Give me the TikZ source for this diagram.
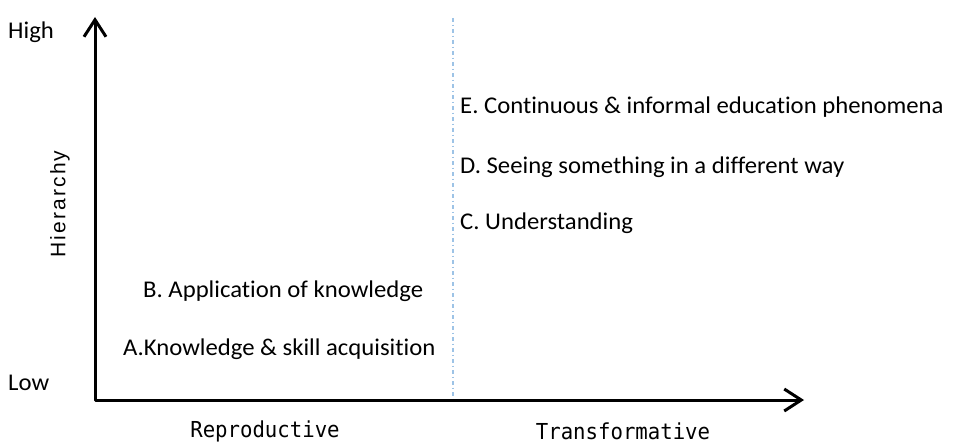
\documentclass[tikz,border=0pt]{standalone}
\usepackage{fontspec}
\setmainfont{Carlito}
\newfontfamily\lblfont[FakeStretch=1.03, Ligatures={NoCommon,NoContextual}]{Carlito}
\newfontfamily\axisfont[FakeStretch=0.94]{DejaVu Sans Mono}
\newfontfamily\hierfont[LetterSpace=10]{Liberation Sans}
\usetikzlibrary{arrows.meta}
\definecolor{guide}{HTML}{9DC3E6}
\tikzset{
  lbl/.style={font=\lblfont\fontsize{24}{28}\selectfont, inner sep=0pt, anchor=west},
  cat/.style={font=\axisfont\fontsize{22}{26}\selectfont, inner sep=0pt},
  axisline/.style={line width=3pt, line join=round,
    {Straight Barb[length=17pt,width=22pt,line width=3pt]}-{Straight Barb[length=17pt,width=22pt,line width=3pt]}},
  guideline/.style={guide, line width=1.2pt, dash pattern=on 4.3pt off 2.3pt on 1.7pt off 2.7pt}
}
\begin{document}
\begin{tikzpicture}[x=1pt,y=-1pt]
\useasboundingbox (0,0) rectangle (957,444);
\coordinate (top) at (95,17);
\coordinate (origin) at (95,400);
\coordinate (right) at (804,400);
\coordinate (gtop) at (453,18);
\coordinate (gbot) at (453,400);
\draw[guideline] (gtop) -- (gbot);
\draw[axisline] (top) -- (origin) -- (right);
\node[lbl] (high) at (8,32) {High};
\node[lbl] (low) at (8,383) {Low};
\node[rotate=90, inner sep=0pt, font=\hierfont\fontsize{21}{24}\selectfont] (hier) at (60,204) {Hierarchy};
\node[lbl] (b) at (143,291) {B. Application of knowledge};
\node[lbl] (a) at (123,349) {A.Knowledge \& skill acquisition};
\node[lbl] (e) at (460,107) {E. Continuous \& informal education phenomena};
\node[lbl] (d) at (460,167) {D. Seeing something in a different way};
\node[lbl] (c) at (460,223) {C. Understanding};
\node[cat] (rep) at (265,431) {Reproductive};
\node[cat] (trans) at (623,431) {Transformative};
\end{tikzpicture}
\end{document}
